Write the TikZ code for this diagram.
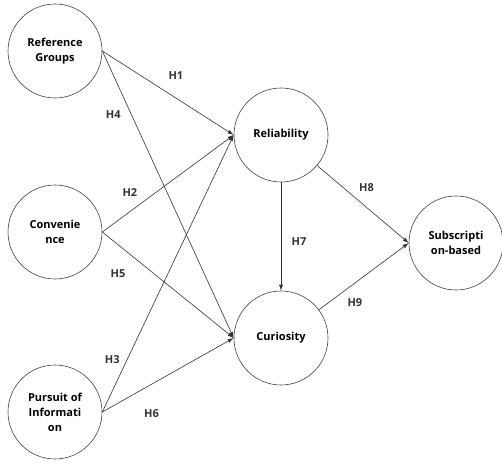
\documentclass[tikz,border=0pt]{standalone}
\usepackage{fontspec}
\setmainfont{Open Sans}
\usetikzlibrary{positioning, arrows.meta}
\tikzset{
    ->, % Directed paths
    >={Latex[length=6pt, width=4pt]}, % Small filled heads
    construct/.style={circle, draw=black!75, line width=0.6pt, minimum size=94pt, inner sep=0pt, align=center, font=\bfseries\fontsize{11}{15}\selectfont}, % Latent constructs
    hyp/.style={inner sep=0pt, font=\bfseries\fontsize{11}{13}\selectfont}, % Hypothesis labels
}
\begin{document}
\begin{tikzpicture}[x=1pt, y=1pt, on grid, line width=0.6pt]
       \useasboundingbox (0,0) rectangle (502,-462);
       % Antecedents
       \node[construct] (conv) at (55,-232) {Convenie\\nce};
       \node[construct] (ref) [above=181pt of conv] {Reference\\Groups};
       \node[construct] (info) [below=180pt of conv] {Pursuit of\\Informati\\on};
       % Mediators
       \node[construct] (rel) [above right=97pt and 226pt of conv] {Reliability};
       \node[construct] (cur) [below right=106pt and 226pt of conv] {Curiosity};
       % Outcome
       \node[construct] (sub) [below right=11pt and 401pt of conv] {Subscripti\\on-based};

       \path[->, color=black!80, every node/.style=hyp]
        (ref.east) edge node [pos=0.56, yshift=22pt] {H1} (rel.west)
                   edge node [pos=0.22, xshift=-18pt] {H4} (cur.west)
        (conv.east) edge node [pos=0.21, yshift=19pt] {H2} (rel.west)
                    edge node [pos=0.12, yshift=-29pt] {H5} (cur.west)
        (info.east) edge node [pos=0.19, xshift=-15pt] {H3} (rel.west)
                    edge node [pos=0.375, yshift=-29pt] {H6} (cur.west)
        (rel) edge node [pos=0.55, xshift=18pt] {H7} (cur)
              edge node [pos=0.54, yshift=20pt] {H8} (sub.west)
        (cur) edge node [pos=0.4, yshift=-20pt] {H9} (sub.west);
\end{tikzpicture}
\end{document}
